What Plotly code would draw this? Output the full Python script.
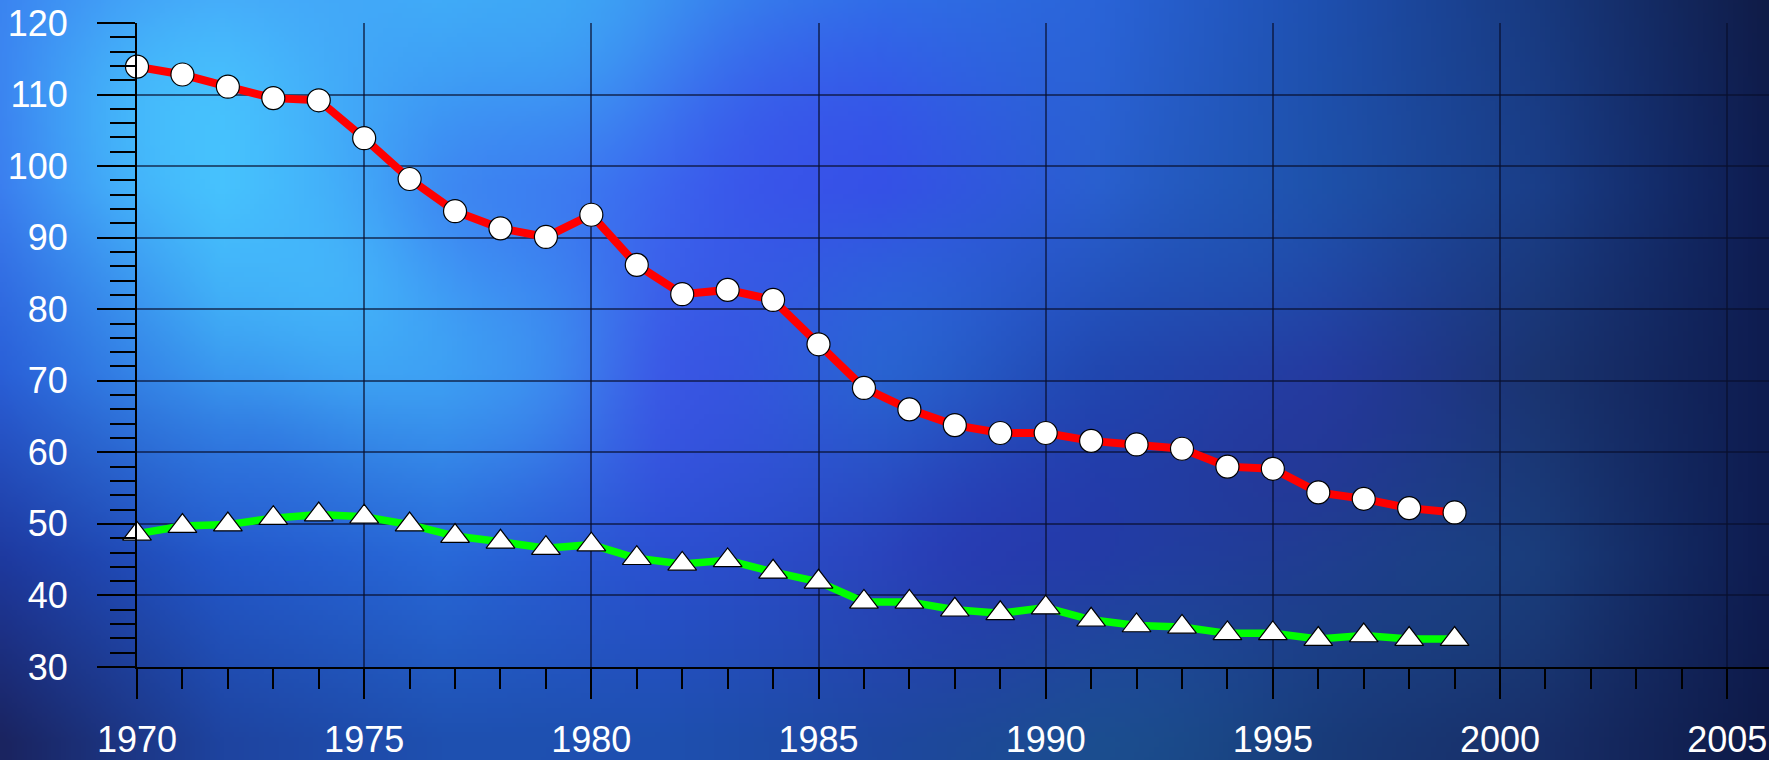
import base64
import struct
import zlib

import numpy as np
import plotly.graph_objects as go

# ---------------- data ----------------
years = list(range(1970, 2000))
red_values = [113.9, 112.8, 111.1, 109.5, 109.2, 103.9, 98.2, 93.7, 91.3, 90.1,
              93.2, 86.2, 82.1, 82.7, 81.3, 75.1, 69.0, 66.0, 63.8, 62.7,
              62.7, 61.6, 61.1, 60.5, 58.0, 57.7, 54.4, 53.5, 52.2, 51.6]
green_values = [48.6, 49.7, 49.9, 50.8, 51.3, 51.0, 49.9, 48.3, 47.5, 46.6,
                47.1, 45.2, 44.4, 44.9, 43.3, 41.9, 39.1, 39.1, 38.0, 37.5,
                38.3, 36.6, 35.8, 35.6, 34.7, 34.7, 33.9, 34.4, 33.9, 33.9]
x_tick_values = [1970, 1975, 1980, 1985, 1990, 1995, 2000, 2005]
x_tick_labels = ["1970", "1975", "1980", "1985", "1990", "1995", "2000", "2005"]
y_tick_values = [30, 40, 50, 60, 70, 80, 90, 100, 110, 120]
y_tick_labels = ["30", "40", "50", "60", "70", "80", "90", "100", "110", "120"]

# ---------------- page geometry ----------------
W, H = 1769, 760
ML, MR, MT, MB = 137, 0, 23, 79
PW, PH = W - ML - MR, H - MT - MB
BLEED = 40  # background image overshoots the page on every side

# ---------------- background texture (decorative) ----------------
bg_cols_x = [0, 220, 440, 660, 880, 1100, 1320, 1540, 1769]
bg_rows_y = [0, 190, 380, 570, 760]
bg_grid = [
    ["#3a80f0", "#45a0f8", "#40a8f8", "#3a8cf0", "#3070e8", "#2a64d8", "#1e50b0", "#183a80", "#101c48"],
    ["#3a78ee", "#45b8fc", "#3a88f0", "#3c6af0", "#3550e8", "#2a60d0", "#1e50a8", "#1a3e88", "#0e1c50"],
    ["#2a60d8", "#3a98f0", "#3a90f0", "#3a58e8", "#2860d0", "#2048b0", "#243ca0", "#1a3470", "#0e1c50"],
    ["#1e3aa0", "#2258c8", "#2868d8", "#2a50d0", "#2a48c0", "#2238a8", "#1e4090", "#1a3a78", "#0e1c50"],
    ["#1a2460", "#1e44a0", "#1e50b0", "#1e50b0", "#1e48a0", "#1a4a8a", "#183a78", "#182e68", "#0e1a48"],
]
bg_blobs = [
    (180, 110, 100, "#48d0ff", 0.6),
    (340, 290, 100, "#48c8ff", 0.6),
    (540, 370, 80, "#40b8f8", 0.45),
    (560, 15, 90, "#40b8f8", 0.45),
    (790, 150, 100, "#3a48e8", 0.45),
    (680, 400, 90, "#3a48e0", 0.4),
    (1015, 570, 100, "#2a30b0", 0.4),
    (1300, 480, 100, "#2a2c98", 0.35),
    (1130, 700, 110, "#1e5a9a", 0.35),
    (470, 210, 70, "#3e70f0", 0.35),
    (250, 480, 80, "#2a58d8", 0.3),
    (900, 320, 80, "#2a78d8", 0.3),
    (1250, 250, 90, "#1e5ab8", 0.3),
    (1450, 600, 90, "#1a4a88", 0.3),
]


def hex_rgb(h):
    h = h.lstrip("#")
    return np.array([int(h[i:i + 2], 16) for i in (0, 2, 4)], dtype=float)


def make_background(w=374, h=168):
    xs = np.linspace(-BLEED, W + BLEED, w)
    ys = np.linspace(-BLEED, H + BLEED, h)
    grid = np.array([[hex_rgb(c) for c in row] for row in bg_grid])
    rows = np.zeros((len(bg_rows_y), w, 3))
    for r in range(len(bg_rows_y)):
        for k in range(3):
            rows[r, :, k] = np.interp(xs, bg_cols_x, grid[r, :, k])
    img = np.zeros((h, w, 3))
    for j in range(w):
        for k in range(3):
            img[:, j, k] = np.interp(ys, bg_rows_y, rows[:, j, k])
    XX, YY = np.meshgrid(xs, ys)
    for cx, cy, rad, col, s in bg_blobs:
        wgt = s * np.exp(-((XX - cx) ** 2 + (YY - cy) ** 2) / (2 * rad ** 2))
        img = img * (1 - wgt[..., None]) + hex_rgb(col)[None, None, :] * wgt[..., None]
    return np.clip(img, 0, 255).astype(np.uint8)


def png_data_uri(arr):
    h, w, _ = arr.shape
    raw = b"".join(b"\x00" + arr[i].tobytes() for i in range(h))

    def chunk(t, d):
        c = struct.pack(">I", len(d)) + t + d
        return c + struct.pack(">I", zlib.crc32(t + d) & 0xFFFFFFFF)

    png = (b"\x89PNG\r\n\x1a\n"
           + chunk(b"IHDR", struct.pack(">IIBBBBB", w, h, 8, 2, 0, 0, 0))
           + chunk(b"IDAT", zlib.compress(raw, 9))
           + chunk(b"IEND", b""))
    return "data:image/png;base64," + base64.b64encode(png).decode()


bg_uri = png_data_uri(make_background())

# ---------------- figure ----------------
FONT = "Liberation Sans, Arial, sans-serif"
GRID = "rgba(8,14,45,0.62)"

fig = go.Figure()
fig.add_trace(go.Scatter(
    x=years, y=red_values, mode="lines+markers",
    line=dict(color="#ff0000", width=8),
    marker=dict(symbol="circle", size=23, color="white",
                line=dict(color="black", width=1.2)),
    cliponaxis=False, showlegend=False, hoverinfo="x+y",
))
fig.add_trace(go.Scatter(
    x=years, y=green_values, mode="lines+markers",
    line=dict(color="#00ff00", width=7.5),
    marker=dict(symbol="triangle-up", size=25, color="white",
                line=dict(color="black", width=1.2)),
    cliponaxis=False, showlegend=False, hoverinfo="x+y",
))

fig.update_layout(
    width=W, height=H,
    margin=dict(l=ML, r=MR, t=MT, b=MB, pad=0),
    paper_bgcolor="#1a3a80",
    plot_bgcolor="rgba(0,0,0,0)",
    font=dict(family=FONT, color="white", size=36),
    images=[dict(
        source=bg_uri, xref="paper", yref="paper",
        x=-(ML + BLEED) / PW, y=1 + (MT + BLEED) / PH,
        sizex=(W + 2 * BLEED) / PW, sizey=(H + 2 * BLEED) / PH,
        xanchor="left", yanchor="top", sizing="stretch", layer="below",
    )],
    xaxis=dict(
        range=[1970, 2005.92], tickmode="array",
        tickvals=x_tick_values, ticktext=x_tick_labels,
        ticks="outside", ticklen=30, tickwidth=1.5, tickcolor="black",
        minor=dict(dtick=1, tick0=1970, ticks="outside", ticklen=20,
                   tickwidth=1.5, tickcolor="black", showgrid=False),
        showgrid=True, gridcolor=GRID, gridwidth=1.5,
        showline=True, linecolor="black", linewidth=2,
        zeroline=False, ticklabeloverflow="allow", ticklabelstandoff=10,
        tickfont=dict(family=FONT, color="white", size=36),
    ),
    yaxis=dict(
        range=[30, 120], tickmode="array",
        tickvals=y_tick_values, ticktext=y_tick_labels,
        ticks="outside", ticklen=38, tickwidth=1.5, tickcolor="black",
        minor=dict(dtick=2, tick0=30, ticks="outside", ticklen=25,
                   tickwidth=1.5, tickcolor="black", showgrid=False),
        showgrid=True, gridcolor=GRID, gridwidth=1.5,
        showline=True, linecolor="black", linewidth=2,
        zeroline=False, ticklabelstandoff=22,
        tickfont=dict(family=FONT, color="white", size=36),
    ),
)

fig.write_html(
    "out.html",
    config={"displayModeBar": False},
    post_script="document.body.style.margin='0';document.body.style.padding='0';"
                "document.body.style.overflow='hidden';",
)
